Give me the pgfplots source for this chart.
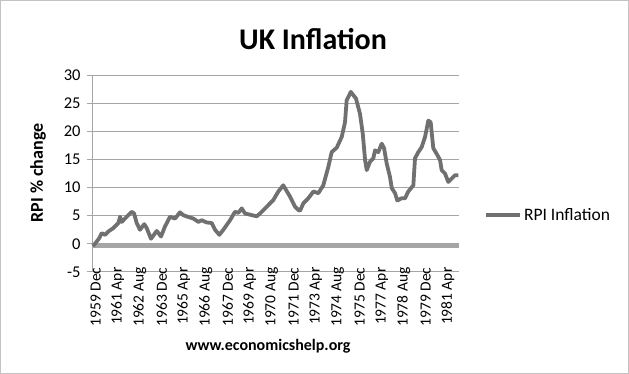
\documentclass[border=0pt]{standalone}
\usepackage{fontspec}
\setmainfont{Carlito}
\usepackage{pgfplots}
\pgfplotsset{compat=1.18}
\definecolor{rpiline}{RGB}{112,112,112}
\definecolor{gridc}{RGB}{165,165,165}
\definecolor{barc}{RGB}{165,165,165}
\definecolor{framec}{RGB}{195,195,195}
\begin{document}
\begin{tikzpicture}
\useasboundingbox (0,0) rectangle (629bp,374bp);
\draw[framec, line width=1bp] (0.5bp,0.5bp) rectangle (628.5bp,373.5bp);
\node[font=\fontsize{30bp}{33bp}\selectfont\bfseries] at (313bp,335bp) {UK Inflation};
\node[font=\fontsize{16bp}{19bp}\selectfont\bfseries] at (268bp,28bp) {www.economicshelp.org};
\node[font=\fontsize{18bp}{21bp}\selectfont\bfseries, rotate=90] at (38bp,201bp) {RPI \% change};
\begin{axis}[
  at={(92bp,102bp)}, anchor=south west,
  scale only axis, width=367bp, height=197bp,
  xmin=-2.7, xmax=264.2, ymin=-5, ymax=30,
  ytick={-5,0,5,10,15,20,25,30},
  xtick={0,16,32,48,64,80,96,112,128,144,160,176,192,208,224,240,256},
  xticklabels={1959 Dec,1961 Apr,1962 Aug,1963 Dec,1965 Apr,1966 Aug,1967 Dec,1969 Apr,1970 Aug,1971 Dec,1973 Apr,1974 Aug,1975 Dec,1977 Apr,1978 Aug,1979 Dec,1981 Apr},
  axis lines*=left,
  axis line style={gridc, line width=1bp},
  ymajorgrids, major grid style={gridc, line width=1bp},
  tick align=outside,
  major tick length=5bp,
  ytick style={gridc, line width=1bp},
  xtick style={draw=none},
  /pgf/number format/assume math mode=true,
  yticklabel style={font=\fontsize{16.5bp}{19bp}\selectfont, anchor=east, xshift=-3bp},
  xticklabel style={font=\fontsize{15.5bp}{18bp}\selectfont, rotate=90, anchor=east},
  xticklabel shift=-13bp,
  legend style={at={(1.069,0.289)}, anchor=west, draw=none, fill=none, inner sep=0pt, font=\fontsize{17.5bp}{20bp}\selectfont},
  legend image code/.code={\draw[#1, line width=3.5bp] (0bp,0bp) -- (34bp,0bp);},
  clip=false,
]
\addplot[barc, line width=5bp, forget plot] coordinates {(-2.7,-0.3) (264.2,-0.3)};
\addplot[rpiline, line width=3.8bp, line join=round] coordinates {
(-2,-0.4) (0.7,0.4) (2.5,1.0) (4.4,1.9) (6.8,1.6) (9.2,2.2) (12.8,2.8) (16.5,3.7) (17.7,4.8) (18.9,3.9)
(22.5,4.8) (26.2,5.7) (27.9,5.4) (29.8,3.7) (32.2,2.5) (35.3,3.5) (37.1,2.8) (40.2,0.9) (44.4,2.3) (47.5,1.3)
(50.4,3.1) (54,4.8) (57.7,4.5) (61.3,5.6) (63.7,5.1) (67,4.8) (71,4.5) (74.6,3.9) (77,4.2) (80.7,3.8)
(84.4,3.7) (86.8,2.5) (89.9,1.6) (92.8,2.5) (97.7,4.2) (101.3,5.7) (103.7,5.5) (106.2,6.3) (108.6,5.4) (113.5,5.1)
(117.1,4.9) (119.5,5.4) (124.4,6.6) (129.2,7.8) (132.8,9.3) (136.4,10.4) (141.3,8.4) (145,6.6) (147.4,6.0) (148.6,5.9)
(151,7.2) (154.6,8.1) (158.3,9.3) (161.9,9.0) (165.5,10.4) (169.2,13.7) (171.6,16.3) (175.3,17.1) (178.9,19.0) (181.3,21.6)
(182.5,25.5) (185.5,27.0) (189.3,25.8) (192.2,23.1) (194.2,19.6) (195.9,14.9) (197.1,13.1) (199.5,14.6) (201.9,15.2) (203.1,16.6)
(205.5,16.3) (208,17.8) (209.7,17.0) (211.6,14.3) (214,11.9) (215.3,9.9) (217.7,9.0) (219.3,7.7) (222.5,8.1) (225,8.1)
(227.3,9.3) (231,10.4) (232.2,15.2) (234.6,16.3) (237.1,17.2) (239.5,19.0) (241.9,21.9) (243.6,21.6) (245.5,17.0) (248.4,15.8)
(250.4,14.9) (251.6,13.1) (254,12.5) (256.4,11.0) (258.9,11.6) (261.3,12.2) (263.7,12.2)
};
\addlegendentry{RPI Inflation}
\end{axis}
\end{tikzpicture}
\end{document}
